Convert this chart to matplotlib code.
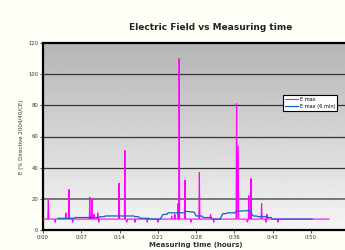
import matplotlib
matplotlib.use('Agg')
import matplotlib.pyplot as plt
import numpy as np
from matplotlib.ticker import FixedLocator, FuncFormatter

# E max readings (minutes from start, % of directive limit)
t_emax = [0.0, 0.9, 1.0, 1.1, 2.2, 2.3, 2.4, 4.2, 4.3, 4.4, 4.8, 4.9, 5.0, 5.5, 5.6, 5.7,
          8.7, 8.8, 8.9, 9.1, 9.2, 9.3, 9.5, 9.6, 9.7, 10.2, 10.3, 10.4, 10.5, 10.6,
          14.2, 14.3, 14.4, 15.3, 15.4, 15.5, 15.8, 15.9, 17.2, 17.3, 17.4, 19.5, 19.6, 19.7,
          21.5, 21.6, 21.7, 24.1, 24.2, 24.3, 24.7, 24.8, 24.9, 25.3, 25.4, 25.5, 25.6, 25.7,
          26.6, 26.7, 26.8, 27.7, 27.8, 27.9, 29.3, 29.4, 29.5, 31.4, 31.5, 31.6, 32.0, 32.1, 32.2,
          36.3, 36.4, 36.5, 36.7, 36.8, 38.3, 38.4, 38.6, 38.7, 38.8, 39.0, 39.1, 39.2,
          41.0, 41.1, 41.2, 41.8, 41.9, 42.0, 42.1, 42.2, 44.1, 44.2, 44.3, 53.8]
e_max = [7, 7, 19, 7, 7, 5, 7, 7, 11, 7, 7, 26, 7, 7, 5, 7,
         7, 21, 7, 7, 20, 7, 7, 10, 7, 7, 11, 7, 5, 7,
         7, 30, 7, 7, 51, 7, 5, 7, 7, 5, 7, 7, 5, 7,
         7, 5, 7, 7, 9, 7, 7, 10, 7, 7, 17, 7, 110, 7,
         7, 32, 7, 7, 5, 7, 7, 37, 7, 7, 10, 7, 7, 5, 7,
         7, 81, 7, 54, 7, 7, 5, 7, 22, 7, 7, 33, 7,
         7, 17, 7, 7, 5, 7, 10, 7, 7, 5, 7, 7]

# E max averaged over 6 minutes
t_e6 = [2.8, 5.8, 6.0, 10.5, 10.7, 11.5, 11.7, 17.1, 17.3, 18.0, 18.2, 19.9, 20.1, 22.0,
        22.6, 23.3, 23.5, 26.5, 26.7, 28.4, 28.8, 29.9, 30.1, 31.6, 31.8, 33.3, 33.8, 34.4, 34.6,
        36.1, 36.3, 38.9, 39.5, 40.2, 40.4, 42.1, 42.3, 42.9, 43.1, 50.6]
e_6min = [7.5, 7.5, 8, 8, 8.5, 8.5, 9, 9, 8.5, 8.5, 7.5, 7.5, 7, 7,
          10, 10, 11, 11, 12, 11.5, 9, 9, 8, 8, 7, 7, 10.5, 10.5, 11,
          11, 12, 12.5, 9, 9, 8.5, 8.5, 8, 8, 7, 7]

xticks = [0, 7.2, 14.4, 21.6, 28.8, 36.0, 43.2, 50.4]
yticks = [0, 20, 40, 60, 80, 100, 120]

fig = plt.figure(figsize=(3.45, 2.5), dpi=100, facecolor='#fffff8')
ax = fig.add_axes([0.1246, 0.08, 0.888, 0.748])

# grey gradient background
grad = np.linspace(1.0, 0.0, 256).reshape(-1, 1)
ax.imshow(grad, aspect='auto', cmap='gray', vmin=-2.8, vmax=1.15,
          extent=[0, 57.6, 0, 120], origin='lower', zorder=0)

for y in yticks[1:-1]:
    ax.axhline(y, color='#333333' if y != 20 else '#777777', lw=0.9 if y != 20 else 1.4, zorder=1)

ax.plot(t_emax, e_max, color='#ff00ff', lw=0.8, label='E max', zorder=3)
ax.plot(t_e6, e_6min, color='#0a64c8', lw=0.9, label='E max (6 min)', zorder=4)

ax.set_xlim(0, 57.6)
ax.set_ylim(0, 120)
ax.xaxis.set_major_locator(FixedLocator(xticks))
ax.xaxis.set_major_formatter(FuncFormatter(lambda v, p: '%d:%02d' % (int(v // 60), int(v % 60))))
ax.yaxis.set_major_locator(FixedLocator(yticks))
ax.tick_params(labelsize=3.8, length=2, width=0.6, colors='#333333', pad=1.5)

for side in ['left', 'bottom', 'top']:
    ax.spines[side].set_linewidth(1.6)
    ax.spines[side].set_color('black')
ax.spines['right'].set_visible(False)

ax.set_xlabel('Measuring time (hours)', fontsize=5, fontweight='bold', labelpad=1.5, color='#333333')
ax.set_ylabel('E (% Directive 2004/40/CE)', fontsize=4, labelpad=3, color='#333333')
fig.text(0.61, 0.89, 'Electric Field vs Measuring time', fontsize=6.5, fontweight='bold',
         ha='center', va='center', color='#222222')

leg = ax.legend(loc='upper left', bbox_to_anchor=(0.785, 0.724), fontsize=3.6, frameon=True,
                fancybox=False, borderpad=0.4, handlelength=2.5, labelspacing=0.5,
                handletextpad=0.4, borderaxespad=0)
leg.get_frame().set_edgecolor('black')
leg.get_frame().set_linewidth(0.8)
leg.get_frame().set_facecolor('white')
leg.get_frame().set_alpha(1)
leg.set_zorder(5)

plt.savefig('out.png', dpi=100, facecolor=fig.get_facecolor())
